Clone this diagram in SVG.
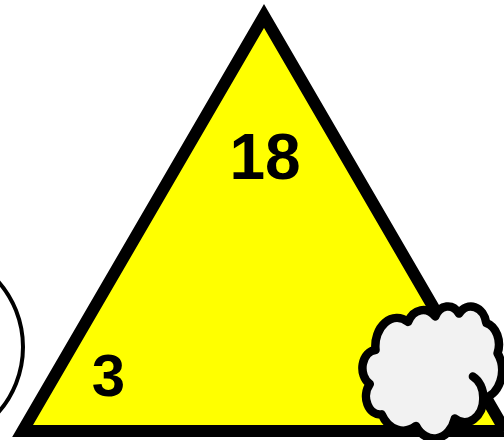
<svg xmlns="http://www.w3.org/2000/svg" width="504" height="440" viewBox="0 0 504 440">
<style>
.lbl{font-family:"Liberation Sans",Arial,sans-serif;font-weight:bold;fill:#000;text-anchor:middle}
.cl{fill:#f2f2f2;stroke:#000;stroke-width:8.5;stroke-linejoin:round}
</style>
<rect width="504" height="440" fill="#fff"/>
<g id="circle">
<circle cx="-76" cy="347" r="99" fill="#fff" stroke="#000" stroke-width="4"/>
</g>
<g id="triangle">
<polygon points="264,16 22.6,431 505.4,431" fill="#ffff00" stroke="#000" stroke-width="12" stroke-linejoin="miter" stroke-miterlimit="10"/>
<text class="lbl" x="265" y="179" font-size="64">18</text>
<text class="lbl" x="108.5" y="396" font-size="60">3</text>
</g>
<g id="cloud">
<path class="cl" d="M 375.55 349.91 A 21.73 28.08 0 0 1 408.06 321.89 A 17.16 22.21 0 0 1 435.25 316.49 A 14.04 18.17 0 0 1 458.99 313.58 A 15.63 20.15 0 0 1 486.29 323.03 A 17.16 22.22 0 0 1 497.55 353.24 A 21.80 28.17 0 0 1 483.35 398.28 A 18.61 24.04 0 0 1 454.88 418.48 A 21.73 28.16 0 0 1 416.03 425.97 A 24.84 32.22 0 0 1 381.68 414.38 A 14.03 18.08 0 0 1 369.80 384.06 A 13.98 18.17 0 0 1 375.55 349.91 Z"/>
<path d="M 472.9 376.5 A 18.61 24.04 0 0 1 483.35 398.28" fill="none" stroke="#000" stroke-width="8.5" stroke-linecap="round"/>
</g>
</svg>
